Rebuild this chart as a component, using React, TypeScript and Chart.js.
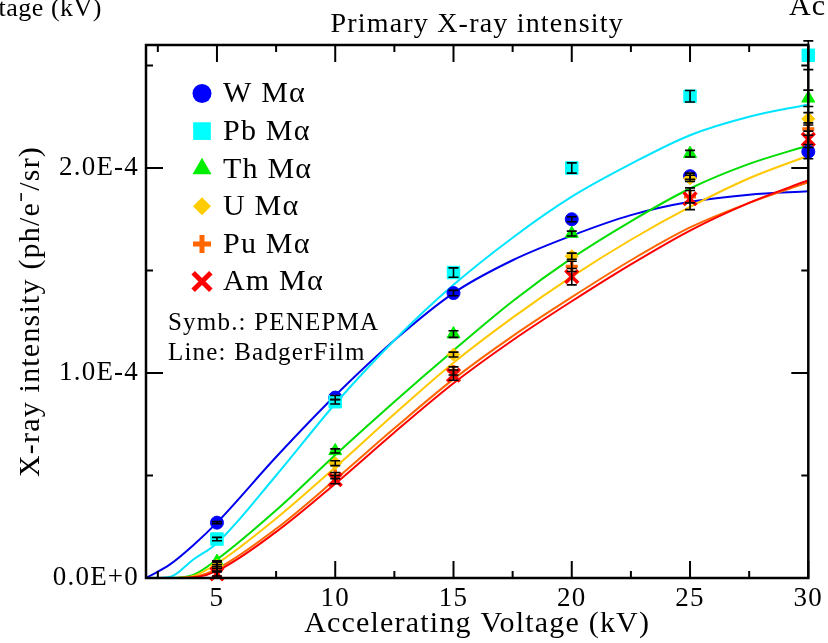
import React, { useEffect, useRef } from 'react';
import { Chart, registerables } from 'chart.js';

Chart.register(...registerables);

const FONT = "'Liberation Serif', 'Times New Roman', serif";

// ---- data (intensities in units of 1E-4 ph/e-/sr) ----
const kv = [5, 10, 15, 20, 25, 30];

const wSym = [0.27, 0.88, 1.39, 1.75, 1.96, 2.08];
const pbSym = [0.19, 0.86, 1.49, 2.0, 2.35, 2.55];
const thSym = [0.08, 0.62, 1.19, 1.68, 2.07, 2.34];
const uSym = [0.06, 0.56, 1.09, 1.57, 1.95, 2.24];
const puSym = [0.04, 0.5, 1.01, 1.52, 1.86, 2.19];
const amSym = [0.02, 0.48, 0.99, 1.47, 1.85, 2.14];

const wErr = [0.005, 0.01, 0.013, 0.012, 0.015, 0.035];
const pbErr = [0.008, 0.011, 0.023, 0.025, 0.028, 0.07];
const thErr = [0.004, 0.01, 0.016, 0.012, 0.016, 0.04];
const uErr = [0.005, 0.012, 0.012, 0.015, 0.015, 0.03];
const puErr = [0.006, 0.015, 0.02, 0.025, 0.03, 0.03];
const amErr = [0.01, 0.02, 0.025, 0.04, 0.053, 0.04];

const kvLine = [2, 3, 4, 5, 7.5, 10, 12.5, 15, 17.5, 20, 22.5, 25, 27.5, 30];
const wLine = [0, 0.065, 0.16, 0.27, 0.59, 0.89, 1.16, 1.39, 1.55, 1.67, 1.77, 1.835, 1.87, 1.886];
const pbLine = [0, 0.005, 0.09, 0.17, 0.5, 0.85, 1.16, 1.43, 1.66, 1.86, 2.02, 2.16, 2.25, 2.31];
const thLine = [0, 0, 0.015, 0.09, 0.33, 0.6, 0.86, 1.11, 1.35, 1.56, 1.74, 1.9, 2.02, 2.11];
const uLine = [0, 0, 0.01, 0.07, 0.29, 0.54, 0.8, 1.05, 1.27, 1.47, 1.65, 1.81, 1.95, 2.06];
const puLine = [0, 0, 0.005, 0.045, 0.24, 0.48, 0.73, 0.97, 1.18, 1.37, 1.55, 1.71, 1.83, 1.93];
const amLine = [0, 0, 0.003, 0.035, 0.225, 0.46, 0.71, 0.95, 1.16, 1.35, 1.53, 1.695, 1.83, 1.94];

const labels = ['W Mα', 'Pb Mα', 'Th Mα', 'U Mα', 'Pu Mα', 'Am Mα'];
const symbolSets = [wSym, pbSym, thSym, uSym, puSym, amSym];
const errorSets = [wErr, pbErr, thErr, uErr, puErr, amErr];
const lineSets = [wLine, pbLine, thLine, uLine, puLine, amLine];

const markerColors = ['#0000ff', '#00ffff', '#00ee00', '#ffcc00', '#ff6600', '#ff0000'];
const lineColors = ['#0000ee', '#00e5ff', '#00dd00', '#ffc800', '#ff6600', '#ff0000'];
const pointStyles = ['circle', 'rect', 'triangle', 'rectRot', 'cross', 'crossRot'];
const pointRadii = [6.5, 8.8, 7.5, 6.5, 6, 9];
const pointBorders = [1, 1, 1, 1, 3.5, 3.5];
const legendRadii = [9.5, 12.5, 11, 9, 9, 12.5];
const legendBorders = [1, 1, 1, 1, 5, 5];

const xTicks = [5, 10, 15, 20, 25, 30];
const xTickLabels = ['5', '10', '15', '20', '25', '30'];
const xMinor = [2.5, 7.5, 12.5, 17.5, 22.5, 27.5];
const yTicks = [0, 1, 2];
const yTickLabels = ['0.0E+0', '1.0E-4', '2.0E-4'];
const yMinor = [0.5, 1.5, 2.5];

const TITLE = 'Primary X-ray intensity';
const SCALE = 1e-4;

function drawMarker(ctx: CanvasRenderingContext2D, style: string, x: number, y: number, r: number) {
  ctx.beginPath();
  switch (style) {
    case 'circle':
      ctx.arc(x, y, r, 0, Math.PI * 2);
      ctx.fill();
      break;
    case 'rect': {
      const s = r * Math.SQRT1_2;
      ctx.rect(x - s, y - s, 2 * s, 2 * s);
      ctx.fill();
      break;
    }
    case 'triangle':
      ctx.moveTo(x, y - r);
      ctx.lineTo(x + r * Math.sin((2 * Math.PI) / 3), y + r / 2);
      ctx.lineTo(x - r * Math.sin((2 * Math.PI) / 3), y + r / 2);
      ctx.closePath();
      ctx.fill();
      break;
    case 'rectRot':
      ctx.moveTo(x, y - r);
      ctx.lineTo(x + r, y);
      ctx.lineTo(x, y + r);
      ctx.lineTo(x - r, y);
      ctx.closePath();
      ctx.fill();
      break;
    case 'cross':
      ctx.moveTo(x - r, y);
      ctx.lineTo(x + r, y);
      ctx.moveTo(x, y - r);
      ctx.lineTo(x, y + r);
      ctx.stroke();
      break;
    case 'crossRot': {
      const s = r * Math.SQRT1_2;
      ctx.moveTo(x - s, y - s);
      ctx.lineTo(x + s, y + s);
      ctx.moveTo(x + s, y - s);
      ctx.lineTo(x - s, y + s);
      ctx.stroke();
      break;
    }
  }
}

const spacingPlugin = {
  id: 'spacing',
  beforeUpdate(chart: any) {
    chart.ctx.letterSpacing = '1.2px';
  },
  beforeDraw(chart: any) {
    chart.ctx.letterSpacing = '1.2px';
  },
};

const decorPlugin = {
  id: 'decor',
  afterDraw(chart: any) {
    const { ctx, chartArea: a, scales } = chart;
    const xs = scales.x;
    const ys = scales.y;
    ctx.save();
    ctx.letterSpacing = '1.2px';

    // error bars
    ctx.strokeStyle = '#000';
    ctx.lineWidth = 1.6;
    errorSets.forEach((errs, si) => {
      errs.forEach((e, i) => {
        const px = xs.getPixelForValue(kv[i]);
        const yt = ys.getPixelForValue((symbolSets[si][i] + e) * SCALE);
        const yb = ys.getPixelForValue((symbolSets[si][i] - e) * SCALE);
        ctx.beginPath();
        ctx.moveTo(px, yt);
        ctx.lineTo(px, yb);
        ctx.moveTo(px - 5, yt);
        ctx.lineTo(px + 5, yt);
        ctx.moveTo(px - 5, yb);
        ctx.lineTo(px + 5, yb);
        ctx.stroke();
      });
    });

    // frame
    ctx.lineWidth = 2.5;
    ctx.strokeRect(a.left, a.top, a.right - a.left, a.bottom - a.top);
    ctx.lineWidth = 2;
    const seg = (x1: number, y1: number, x2: number, y2: number) => {
      ctx.beginPath();
      ctx.moveTo(x1, y1);
      ctx.lineTo(x2, y2);
      ctx.stroke();
    };
    xTicks.forEach((v) => {
      const p = xs.getPixelForValue(v);
      seg(p, a.bottom, p, a.bottom - 17);
      seg(p, a.top, p, a.top + 17);
    });
    xMinor.forEach((v) => {
      const p = xs.getPixelForValue(v);
      seg(p, a.bottom, p, a.bottom - 7);
      seg(p, a.top, p, a.top + 7);
    });
    yTicks.forEach((v) => {
      const p = ys.getPixelForValue(v * SCALE);
      seg(a.left, p, a.left + 17, p);
      seg(a.right, p, a.right - 17, p);
    });
    yMinor.forEach((v) => {
      const p = ys.getPixelForValue(v * SCALE);
      seg(a.left, p, a.left + 7, p);
      seg(a.right, p, a.right - 7, p);
    });

    // title centred over the plot area
    ctx.fillStyle = '#000';
    ctx.font = `28px ${FONT}`;
    ctx.textAlign = 'center';
    ctx.textBaseline = 'alphabetic';
    ctx.fillText(TITLE, (a.left + a.right) / 2, 32);

    // legend
    const lx = 202;
    const ly0 = 93.5;
    const dy = 37.6;
    ctx.font = `30px ${FONT}`;
    ctx.textBaseline = 'middle';
    ctx.textAlign = 'left';
    labels.forEach((lab, i) => {
      const y = ly0 + i * dy;
      ctx.fillStyle = markerColors[i];
      ctx.strokeStyle = markerColors[i];
      ctx.lineWidth = legendBorders[i];
      drawMarker(ctx, pointStyles[i], lx, y, legendRadii[i]);
      ctx.fillStyle = '#000';
      ctx.fillText(lab, 223, y + 1);
    });
    ctx.font = `25px ${FONT}`;
    ctx.fillStyle = '#000';
    ctx.fillText('Symb.: PENEPMA', 168, 323);
    ctx.fillText('Line: BadgerFilm', 168, 353);

    // cropped neighbour labels
    ctx.letterSpacing = '0.5px';
    ctx.font = `26px ${FONT}`;
    ctx.textBaseline = 'alphabetic';
    ctx.textAlign = 'right';
    ctx.fillText('Voltage (kV)', 102, 16);
    ctx.textAlign = 'left';
    ctx.letterSpacing = '1.2px';
    ctx.font = `30px ${FONT}`;
    ctx.fillText('Ac', 789, 15);
    ctx.restore();
  },
};

export default function App() {
  const ref = useRef<HTMLCanvasElement | null>(null);

  useEffect(() => {
    document.body.style.margin = '0';
    const canvas = ref.current;
    if (!canvas) return;
    Chart.defaults.font.family = FONT;
    Chart.defaults.color = '#000';

    const symbolDatasets = labels.map((lab, i) => ({
      type: 'scatter' as const,
      label: lab,
      data: kv.map((x, j) => ({ x, y: symbolSets[i][j] * SCALE })),
      pointStyle: pointStyles[i],
      pointRadius: pointRadii[i],
      pointBackgroundColor: markerColors[i],
      pointBorderColor: markerColors[i],
      pointBorderWidth: pointBorders[i],
      showLine: false,
      clip: false as any,
      order: 6 - i,
    }));
    const lineDatasets = labels.map((lab, i) => ({
      type: 'line' as const,
      label: lab + ' BadgerFilm',
      data: kvLine.map((x, j) => ({ x, y: lineSets[i][j] * SCALE })),
      borderColor: lineColors[i],
      borderWidth: 2,
      pointRadius: 0,
      fill: false,
      cubicInterpolationMode: 'monotone' as const,
      order: 20 - i,
    }));

    const chart = new Chart(canvas, {
      type: 'scatter',
      data: { datasets: [...symbolDatasets, ...lineDatasets] as any },
      plugins: [spacingPlugin, decorPlugin],
      options: {
        animation: false,
        responsive: true,
        maintainAspectRatio: false,
        layout: { padding: { left: 0, right: 18, top: 45, bottom: 0 } },
        plugins: {
          legend: { display: false },
          tooltip: { enabled: false },
          title: { display: false },
        },
        scales: {
          x: {
            type: 'linear',
            min: 2,
            max: 30,
            grid: { display: false, drawTicks: false },
            border: { display: false },
            afterBuildTicks: (s: any) => {
              s.ticks = xTicks.map((v) => ({ value: v }));
            },
            ticks: {
              color: '#000',
              padding: 5,
              maxRotation: 0,
              autoSkip: false,
              font: { family: FONT, size: 27 },
              callback: (_v: any, idx: number) => xTickLabels[idx],
            },
            title: {
              display: true,
              text: 'Accelerating Voltage (kV)',
              color: '#000',
              font: { family: FONT, size: 30, lineHeight: 1 },
              padding: { top: 0, bottom: 4 },
            },
            afterFit: (s: any) => {
              s.height = 65;
            },
          },
          y: {
            type: 'linear',
            min: 0,
            max: 2.6 * SCALE,
            grid: { display: false, drawTicks: false },
            border: { display: false },
            afterBuildTicks: (s: any) => {
              s.ticks = yTicks.map((v) => ({ value: v * SCALE }));
            },
            ticks: {
              color: '#000',
              padding: 7,
              autoSkip: false,
              font: { family: FONT, size: 27 },
              callback: (_v: any, idx: number) => yTickLabels[idx],
            },
            title: {
              display: true,
              text: 'X-ray intensity (ph/e⁻/sr)',
              color: '#000',
              font: { family: FONT, size: 30, lineHeight: 1 },
              padding: { top: 16, bottom: 0 },
            },
            afterFit: (s: any) => {
              s.width = 146;
            },
          },
        },
      } as any,
    });
    return () => chart.destroy();
  }, []);

  return (
    <div style={{ width: 828, height: 643, position: 'relative' }}>
      <canvas ref={ref} />
    </div>
  );
}
